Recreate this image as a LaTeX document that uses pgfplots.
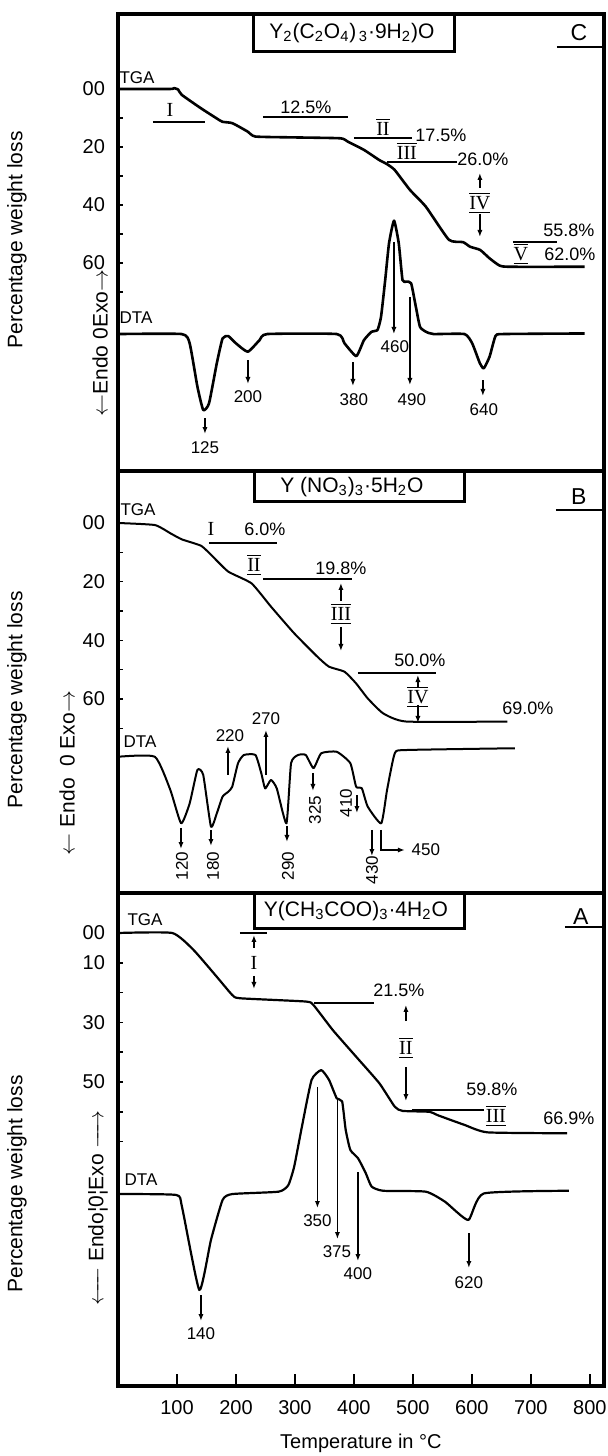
\documentclass[border=0pt]{standalone}
\usepackage{amsmath}
\usepackage{fontspec}
\setmainfont{Liberation Sans}
\newfontfamily\romfont{Liberation Serif}
\usepackage{pgfplots}
\pgfplotsset{compat=1.18}
\usetikzlibrary{arrows.meta}

\newcommand{\pC}[2]{(axis cs:{(#1-118)/0.59},{(#2-89)/2.9})}
\newcommand{\pB}[2]{(axis cs:{(#1-118)/0.59},{(#2-523)/2.933})}
\newcommand{\pA}[2]{(axis cs:{(#1-118)/0.59},{(#2-933)/2.98})}
\newcommand{\fs}[1]{\fontsize{#1}{#1}\selectfont}
\newcommand{\rn}[1]{$\overline{\underline{\mbox{\romfont #1}}}$}

\tikzset{
 arr/.style={-{Latex[length=3.5pt,width=2.6pt]}, line width=0.7pt},
 ann/.style={line width=0.7pt},
}
\pgfplotsset{
 panel/.style={at={(59pt,#1)}, anchor=south west, scale only axis, width=243pt,
   xmin=0, xmax=824, y dir=reverse, clip=false,
   axis line style={line width=1.8pt}, tick align=inside, tick pos=left,
   major tick length=2.6pt, minor tick length=2.6pt,
   every tick/.style={black, line width=0.8pt},
   tick label style={font=\fs{10}},
   yticklabel style={xshift=-3pt},
   /pgf/number format/assume math mode=true},
 crv/.style={black, line width=#1, line join=round, smooth, tension=0.3, no markers},
}

\begin{document}
\begin{tikzpicture}
\path[use as bounding box] (0,0) rectangle (303.5pt,728pt);

% ================= Panel C =================
\begin{axis}[panel=492.5pt, height=228.5pt, ymin=-25.86, ymax=131.72,
  ytick={0,20,40,60}, yticklabels={00,20,40,60}, minor ytick={10,30,50,70}, xtick=\empty]
\addplot[crv=1.3pt] table {
0 0
88 0
95 -0.3
102 0.2
108 2
141 6.7
167 10.1
177 11.3
194 11.8
220 14.7
233 16.4
300 16.7
377 17.0
390 18.2
417 21.0
443 24.5
456 25.9
469 27.9
495 34.8
522 40.6
561 52.0
585 52.8
597 54.4
614 55.5
630 58.4
647 60.9
664 61.3
791 61.3
};
\addplot[crv=1.3pt] table {
0 84.5
108 84.5
121.5 87.7
134.6 102.6
144.5 110.7
154.3 108.4
167.5 94.6
177.3 86.0
187 85.2
200 87.7
220 90.6
240 86.6
253 84.5
371 84.5
384 87.7
404 92.1
417 86.6
430 83.7
440 83.1
446 78.5
453 65.9
459.5 53.2
468 45.4
476 53.2
482.4 65.9
489 66.4
497 67
505 75.1
512 82
522 83.7
535 84.5
587.5 84.5
600.5 87.7
613.6 94.6
620.2 96.3
630 92.3
640 85.2
653 84.5
791 84.3
};
% title box
\draw[line width=1.5pt] \pC{254}{14} rectangle \pC{455}{52};
\path \pC{352}{33} node[font=\fs{10.5}] {Y\textsubscript{2}(C\textsubscript{2}O\textsubscript{4})\textsubscript{\,3}·9H\textsubscript{2})O};
\path \pC{579}{33} node[font=\fs{11.5}] {C};
\draw[line width=1.2pt] \pC{557}{47} -- \pC{604}{47};
% side labels
\path \pC{17}{240} node[rotate=90,font=\fs{10.5}] {Percentage weight loss};
\path \pC{100}{343} node[rotate=90,font=\fs{10.5}] {$\leftarrow$Endo 0Exo$\rightarrow$};
% TGA annotations
\path \pC{137}{78} node[font=\fs{8.5}] {TGA};
\path \pC{170}{110} node[font=\romfont\fs{10}] {I};
\draw[ann] \pC{153}{122} -- \pC{205}{122};
\path \pC{306}{107} node[font=\fs{9}] {12.5\%};
\draw[ann] \pC{263}{117} -- \pC{348}{117};
\path \pC{383}{129} node[font=\fs{10}] {\rn{II}};
\draw[ann] \pC{354}{138} -- \pC{412}{138};
\path \pC{441}{135} node[font=\fs{9}] {17.5\%};
\path \pC{407}{153} node[font=\fs{10}] {\rn{III}};
\draw[ann] \pC{387}{162} -- \pC{457}{162};
\path \pC{483}{159} node[font=\fs{9}] {26.0\%};
\draw[arr] \pC{480}{188} -- \pC{480}{173};
\path \pC{480}{203} node[font=\fs{10}] {\rn{IV}};
\draw[arr] \pC{480}{214} -- \pC{480}{237};
\path \pC{569}{230} node[font=\fs{9}] {55.8\%};
\draw[ann] \pC{513}{242} -- \pC{557}{242};
\path \pC{521}{254} node[font=\fs{10}] {\rn{V}};
\path \pC{570}{254} node[font=\fs{9}] {62.0\%};
% DTA annotations
\path \pC{136}{318} node[font=\fs{8.5}] {DTA};
\draw[arr] \pC{205}{418} -- \pC{205}{434};
\path \pC{205}{448} node[font=\fs{8.5}] {125};
\draw[arr] \pC{248}{360} -- \pC{248}{384};
\path \pC{248}{397} node[font=\fs{8.5}] {200};
\draw[arr] \pC{353}{362} -- \pC{353}{386};
\path \pC{354}{400} node[font=\fs{8.5}] {380};
\draw[arr] \pC{394}{242} -- \pC{394}{334};
\path \pC{395}{347} node[font=\fs{8.5}] {460};
\draw[arr] \pC{410}{297} -- \pC{410}{385};
\path \pC{412}{400} node[font=\fs{8.5}] {490};
\draw[arr] \pC{483}{380} -- \pC{483}{396};
\path \pC{484}{410} node[font=\fs{8.5}] {640};
\end{axis}

% ================= Panel B =================
\begin{axis}[panel=281.5pt, height=211pt, ymin=-17.73, ymax=126.15,
  ytick={0,20,40,60}, yticklabels={00,20,40,60}, minor ytick={10,30,50,70}, xtick=\empty]
\addplot[crv=1pt] table {
0 0
62.5 0.7
88.7 3.5
108.4 5.6
141.2 7.8
160.9 11.5
187.1 16.6
226.5 20.6
259.3 28.5
298.7 37.6
338.1 45.6
357.8 49
384 50.7
403.7 54.7
423.4 59.8
449.6 64.9
489 67.7
660 67.7
};
\addplot[crv=1pt] table {
0 79.7
62.5 79.7
88.7 91.0
107 102.4
121.5 95.6
134.6 84.2
144.5 85.9
157.6 103.5
167.5 99.0
177.3 93.3
187.1 91.6
193.7 89.9
203.5 81.9
213.4 79.1
233.1 79.1
242.9 85.3
249.5 90.5
259.3 87.6
269.2 90.5
285.6 102.4
293.4 81.9
305.3 79.1
318.4 79.1
331.5 83.6
344.6 78.5
370.9 78.0
393.9 81.9
403.7 89.9
413.5 90.5
423.4 96.7
446.3 102.4
456.2 91.0
469.3 78.5
489 77.4
672.7 76.8
};
\draw[line width=1.5pt] \pB{255}{472} rectangle \pB{465}{502};
\path \pB{352}{487} node[font=\fs{10.5}] {Y (NO\textsubscript{3})\textsubscript{3}·5H\textsubscript{2}O};
\path \pB{579}{497} node[font=\fs{11.5}] {B};
\draw[line width=1.2pt] \pB{556}{510} -- \pB{604}{510};
\path \pB{17}{700} node[rotate=90,font=\fs{10.5}] {Percentage weight loss};
\path \pB{67}{773} node[rotate=90,font=\fs{10.5}] {$\leftarrow$\ Endo\ \ 0 Exo$\rightarrow$};
\path \pB{138}{510} node[font=\fs{8.5}] {TGA};
\path \pB{211}{529} node[font=\romfont\fs{10}] {I};
\path \pB{265}{529} node[font=\fs{9}] {6.0\%};
\draw[ann] \pB{209}{543} -- \pB{277}{543};
\path \pB{254}{565} node[font=\fs{10}] {\rn{II}};
\path \pB{341}{568} node[font=\fs{9}] {19.8\%};
\draw[ann] \pB{263}{579} -- \pB{352}{579};
\draw[arr] \pB{341}{601} -- \pB{341}{583};
\path \pB{341}{614} node[font=\fs{10}] {\rn{III}};
\draw[arr] \pB{341}{627} -- \pB{341}{651};
\path \pB{420}{660} node[font=\fs{9}] {50.0\%};
\draw[ann] \pB{358}{673} -- \pB{436}{673};
\draw[arr] \pB{418}{688} -- \pB{418}{675};
\path \pB{418}{697} node[font=\fs{10}] {\rn{IV}};
\draw[arr] \pB{418}{705} -- \pB{418}{723};
\path \pB{528}{708} node[font=\fs{9}] {69.0\%};
\path \pB{140}{742} node[font=\fs{8.5}] {DTA};
\draw[arr] \pB{228}{775} -- \pB{228}{746};
\path \pB{230}{736} node[font=\fs{8.5}] {220};
\draw[arr] \pB{266}{775} -- \pB{266}{730};
\path \pB{266}{719} node[font=\fs{8.5}] {270};
\draw[arr] \pB{181}{828} -- \pB{181}{849};
\path \pB{182}{866} node[rotate=90,font=\fs{8.5}] {120};
\draw[arr] \pB{211}{830} -- \pB{211}{846};
\path \pB{213}{866} node[rotate=90,font=\fs{8.5}] {180};
\draw[arr] \pB{287}{826} -- \pB{287}{842};
\path \pB{288}{866} node[rotate=90,font=\fs{8.5}] {290};
\draw[arr] \pB{313}{773} -- \pB{313}{791};
\path \pB{315}{810} node[rotate=90,font=\fs{8.5}] {325};
\draw[arr] \pB{357}{795} -- \pB{357}{813};
\path \pB{346}{803} node[rotate=90,font=\fs{8.5}] {410};
\draw[arr] \pB{372}{830} -- \pB{372}{856};
\path \pB{372}{870} node[rotate=90,font=\fs{8.5}] {430};
\draw[arr] \pB{381}{830} -- \pB{381}{850} -- \pB{405}{850};
\path \pB{426}{850} node[font=\fs{8.5}] {450};
\end{axis}

% ================= Panel A =================
\begin{axis}[panel=35pt, height=246.5pt, ymin=-13.42, ymax=152.01,
  ytick={0,10,30,50}, yticklabels={00,10,30,50}, minor ytick={20,40,60,70},
  xtick=\empty, minor xtick={50,150,...,750},
  extra x ticks={100,200,...,800},
  extra x tick labels={100,200,300,400,500,600,700,800},
  extra x tick style={major tick length=6pt, xticklabel style={yshift=-3.5pt}}]
\addplot[crv=1.1pt] table {
0 0
92 0
128.1 5.7
167.5 14.7
193.7 20.8
206.8 21.9
318.4 23.0
331.5 24.2
364.3 32.6
403.7 41.5
443 50.4
469.3 58.3
482.4 59.7
528.3 60.0
541.5 61.1
587.5 64.4
626.8 66.9
761.3 67.2
};
\addplot[crv=1.1pt] table {
0 87.6
98.6 87.9
108.4 91.8
137.9 119.8
157.6 103
177.3 89.6
193.7 87.6
272.4 86.8
288.8 84.6
298.7 78.4
311.8 65.0
328.2 49.3
344.6 46.0
357.8 49.3
370.9 55.5
380 56.5
386 66
393.9 72.8
407 75.6
420.1 80.6
430 85.1
449.6 86.5
521.8 86.8
554.6 90.2
593.9 96.3
620.2 87.4
764.6 86.5
};
\draw[line width=1.5pt] \pA{255}{894} rectangle \pA{465}{929};
\path \pA{356}{911} node[font=\fs{10.5}] {Y(CH\textsubscript{3}COO)\textsubscript{3}·4H\textsubscript{2}O};
\path \pA{581}{917} node[font=\fs{11.5}] {A};
\draw[line width=1.2pt] \pA{565}{927} -- \pA{604}{927};
\path \pA{17}{1184} node[rotate=90,font=\fs{10.5}] {Percentage weight loss};
\path \pA{98}{1208} node[rotate=90,font=\fs{10.5}] {$\xleftarrow{\hspace*{1.2em}}$ Endo¦0¦Exo $\xrightarrow{\hspace*{1.2em}}$};
\path \pA{361}{1443} node[font=\fs{10}] {Temperature in °C};
\path \pA{145}{920} node[font=\fs{8.5}] {TGA};
\draw[ann] \pA{240}{933} -- \pA{267}{933};
\draw[arr] \pA{254}{948} -- \pA{254}{935};
\path \pA{254}{963} node[font=\romfont\fs{10}] {I};
\draw[arr] \pA{254}{976} -- \pA{254}{989};
\path \pA{399}{990} node[font=\fs{9}] {21.5\%};
\draw[ann] \pA{314}{1003} -- \pA{374}{1003};
\draw[arr] \pA{406}{1021} -- \pA{406}{1005};
\path \pA{406}{1048} node[font=\fs{10}] {\rn{II}};
\draw[arr] \pA{406}{1067} -- \pA{406}{1101};
\path \pA{492}{1089} node[font=\fs{9}] {59.8\%};
\draw[ann] \pA{412}{1110} -- \pA{484}{1110};
\path \pA{496}{1116} node[font=\fs{10}] {\rn{III}};
\path \pA{569}{1118} node[font=\fs{9}] {66.9\%};
\path \pA{141}{1180} node[font=\fs{8.5}] {DTA};
\draw[arr] \pA{317.5}{1087} -- \pA{317.5}{1208};
\path \pA{317.5}{1221} node[font=\fs{8.5}] {350};
\draw[arr] \pA{337.5}{1100} -- \pA{337.5}{1239};
\path \pA{337}{1252} node[font=\fs{8.5}] {375};
\draw[arr] \pA{358}{1172} -- \pA{358}{1261};
\path \pA{358}{1274} node[font=\fs{8.5}] {400};
\draw[arr] \pA{469}{1233} -- \pA{469}{1268};
\path \pA{469}{1283} node[font=\fs{8.5}] {620};
\draw[arr] \pA{201}{1295} -- \pA{201}{1321};
\path \pA{201}{1334} node[font=\fs{8.5}] {140};
\end{axis}
\end{tikzpicture}
\end{document}
